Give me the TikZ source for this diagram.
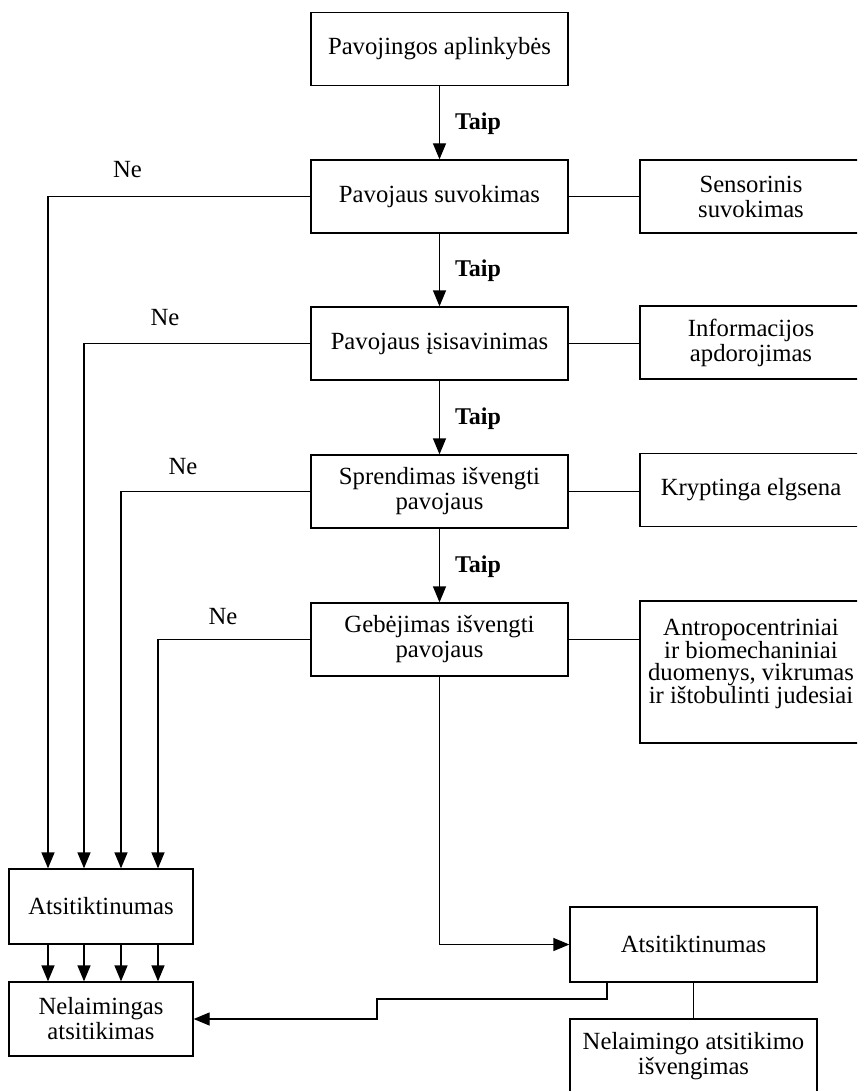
\documentclass[tikz,border=0pt]{standalone}
\usepackage{fontspec}
\setmainfont{Liberation Serif}
\usetikzlibrary{arrows.meta}
\lineskiplimit=-20pt
\begin{document}
\begin{tikzpicture}[x=1pt,y=-1pt,
  every node/.style={font=\fontsize{24.7}{25}\selectfont},
  box/.style={draw, line width=1.3pt, align=center, inner sep=0pt, minimum height=73pt},
  mid/.style={box, minimum width=257pt},
  side/.style={box, minimum width=222pt},
  low/.style={box, minimum width=184pt, minimum height=75pt},
  right/.style={box, minimum width=247pt, minimum height=75pt},
  link/.style={line width=1.3pt},
  arr/.style={link, -{Triangle[length=16pt,width=13pt]}},
  yes/.style={font=\fontsize{24}{25}\selectfont\bfseries, inner sep=0pt},
  no/.style={inner sep=0pt}
]
\useasboundingbox (0,0) rectangle (857,1091);
\clip (0,0) rectangle (857,1091);

% main chain
\node[mid] (A) at (439.5,49)    {Pavojingos aplinkybės};
\node[mid] (B) at (439.5,196.5) {Pavojaus suvokimas};
\node[mid] (C) at (439.5,343.5) {Pavojaus įsisavinimas};
\node[mid] (D) at (439.5,491.5) {Sprendimas išvengti\\pavojaus};
\node[mid] (E) at (439.5,639.5) {Gebėjimas išvengti\\pavojaus};

% side boxes (running past the right edge)
\node[side] (sens) at (751,196.5) {Sensorinis\\suvokimas};
\node[side] (info) at (751,342.5) {Informacijos\\apdorojimas};
\node[side] (kryp) at (751,490)   {Kryptinga elgsena};
\node[side, minimum height=142pt] (antro) at (751,672) {};
\node[anchor=north, align=center, inner sep=0pt,
      font=\fontsize{24.7}{22.5}\selectfont] (antrotxt) at (751,619)
  {Antropocentriniai\\ir biomechaniniai\\duomenys, vikrumas\\ir ištobulinti judesiai};

% outcome boxes
\node[low] (atsA) at (101,906.5) {Atsitiktinumas};
\node[low, minimum height=74pt] (nel) at (101,1019) {Nelaimingas\\atsitikimas};
\node[right] (atsB) at (693.5,944.5) {Atsitiktinumas};
\node[right] (avoid) at (693.5,1056.5) {Nelaimingo atsitikimo\\išvengimas};

% "yes" arrows
\draw[arr] (A) -- (B);
\draw[arr] (B) -- (C);
\draw[arr] (C) -- (D);
\draw[arr] (D) -- (E);
\node[yes] (y1) at (478,124) {Taip};
\node[yes] (y2) at (478,271) {Taip};
\node[yes] (y3) at (478,418.5) {Taip};
\node[yes] (y4) at (478,566.5) {Taip};

% side links
\draw[link] (B.east) -- (B.east -| sens.west);
\draw[link] (C.east) -- (C.east -| info.west);
\draw[link] (D.east) -- (D.east -| kryp.west);
\draw[link] (E.east) -- (E.east -| antro.west);

% "no" branches
\draw[arr] (B.west) -| ([xshift=-53pt]atsA.north);
\draw[arr] (C.west) -| ([xshift=-17pt]atsA.north);
\draw[arr] (D.west) -| ([xshift=20pt]atsA.north);
\draw[arr] (E.west) -| ([xshift=57pt]atsA.north);
\node[no] (n1) at (127.5,170) {Ne};
\node[no] (n2) at (165,318)   {Ne};
\node[no] (n3) at (183,467)   {Ne};
\node[no] (n4) at (223,617)   {Ne};

% chance to accident
\foreach \dx in {-53,-17,20,57}
  \draw[arr] ([xshift=\dx pt]atsA.south) -- ([xshift=\dx pt]nel.north);

% success path
\draw[arr] (E.south) |- (atsB.west);
\coordinate (jog) at (377,999);
\draw[arr] ([xshift=-86.5pt]atsB.south) |- (jog) |- (nel.east);
\draw[link] (atsB.south) -- (avoid.north);
\end{tikzpicture}
\end{document}
